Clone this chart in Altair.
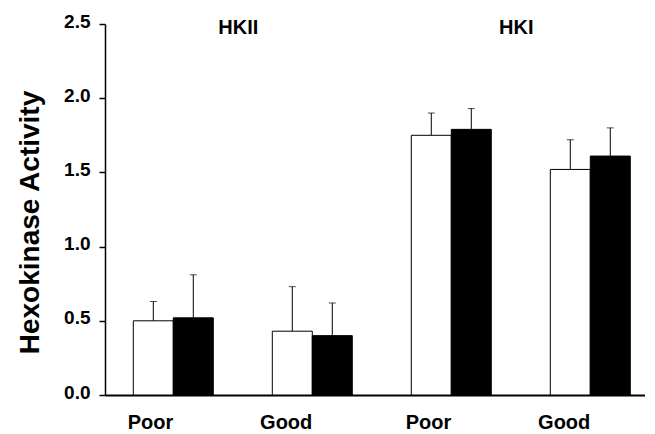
import altair as alt
import pandas as pd

groups = ["Poor HKII", "Good HKII", "Poor HKI", "Good HKI"]
series = ["Control", "Treated"]
white_means = [0.50, 0.43, 1.75, 1.52]
white_sd = [0.13, 0.30, 0.15, 0.20]
black_means = [0.52, 0.40, 1.79, 1.61]
black_sd = [0.29, 0.22, 0.14, 0.19]

iso_names = ["HKII", "HKI"]
iso_anchor = ["Poor HKII", "Poor HKI"]
iso_y = [2.47, 2.47]

rows = []
for i, g in enumerate(groups):
    rows.append({"group": g, "series": series[0], "mean": white_means[i], "upper": white_means[i] + white_sd[i]})
    rows.append({"group": g, "series": series[1], "mean": black_means[i], "upper": black_means[i] + black_sd[i]})
df = pd.DataFrame(rows)
lab = pd.DataFrame({"group": iso_anchor, "name": iso_names, "y": iso_y})

FONT = "Liberation Sans"

xscale = alt.Scale(domain=groups, paddingInner=0.4245, paddingOuter=0.1547, align=0.658)
yscale = alt.Scale(domain=[0, 2.5], nice=False)
offscale = alt.Scale(domain=series, paddingInner=0, paddingOuter=0)

x = alt.X("group:N", scale=xscale, sort=groups,
          axis=alt.Axis(title=None, ticks=False, labelAngle=0, labelPadding=27,
                        labelExpr="split(datum.label, ' ')[0]",
                        labelFont=FONT, labelFontSize=20, labelFontWeight="bold",
                        labelColor="black", domainColor="black", domainWidth=2))
xo = alt.XOffset("series:N", scale=offscale, sort=series)

bars = alt.Chart(df).mark_bar(stroke="black", strokeWidth=1).encode(
    x=x,
    xOffset=xo,
    y=alt.Y("mean:Q", scale=yscale,
            axis=alt.Axis(title="Hexokinase Activity", values=[0, 0.5, 1.0, 1.5, 2.0, 2.5],
                          format=".1f", tickSize=6, tickColor="black", tickWidth=1.5,
                          domainColor="black", domainWidth=1.5, labelPadding=9,
                          labelOffset=-3,
                          labelFont=FONT, labelFontSize=19, labelFontWeight="bold",
                          labelColor="black", titleFont=FONT, titleFontSize=28,
                          titleFontWeight="bold", titleColor="black",
                          titleX=-67, titleY=198, titleBaseline="alphabetic",
                          titleAlign="center", titleAngle=270)),
    fill=alt.Fill("series:N", scale=alt.Scale(domain=series, range=["white", "black"]), legend=None),
)

rules = alt.Chart(df).mark_rule(color="black", strokeWidth=1).encode(
    x=alt.X("group:N", scale=xscale, sort=groups),
    xOffset=xo,
    y=alt.Y("mean:Q", scale=yscale),
    y2="upper:Q",
)

caps = alt.Chart(df).mark_tick(color="black", thickness=1, size=7, orient="horizontal").encode(
    x=alt.X("group:N", scale=xscale, sort=groups),
    xOffset=xo,
    y=alt.Y("upper:Q", scale=yscale),
)

texts = alt.Chart(lab).mark_text(font=FONT, fontSize=20, fontWeight="bold", color="black",
                                 baseline="middle", align="center", dx=25).encode(
    x=alt.X("group:N", scale=xscale, sort=groups, bandPosition=1),
    y=alt.Y("y:Q", scale=yscale),
    text="name:N",
)

chart = alt.layer(rules, caps, bars, texts).properties(
    width=540, height=371,
    padding={"left": 8, "top": 4, "right": 0, "bottom": 0},
).configure_view(stroke=None).configure_axis(grid=False)

chart.save("out.html", embed_options={"renderer": "svg", "actions": False})
